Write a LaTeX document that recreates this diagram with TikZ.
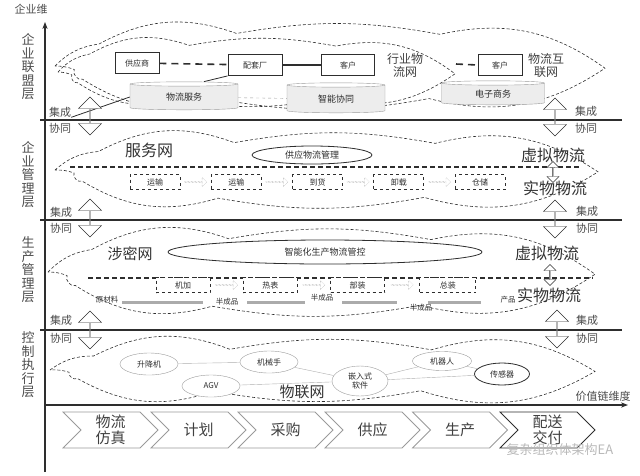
\documentclass[tikz,border=0pt]{standalone}
\usepackage{fontspec}
\setmainfont{Noto Sans CJK SC}
\usetikzlibrary{
  positioning, arrows.meta, shapes.geometric, shapes.symbols,
  shapes.arrows, calc
}
\definecolor{inkgray}{HTML}{2E2E2E}
\definecolor{softgray}{HTML}{9A9A9A}
\definecolor{bargray}{HTML}{ABABAB}

% dashed network outline: left x, right x, middle y, half height
\newcommand{\lipcloud}[4]{%
  \draw[cloudline]
    (#1,#3)
    to[bend left=18] ({#1+0.08*(#2-#1)},{#3-0.5*#4})
    to[bend left=24] ({#1+0.33*(#2-#1)},{#3-0.74*#4})
    to[bend left=10] ({#1+0.70*(#2-#1)},{#3-0.72*#4})
    to[bend left=24] (#2,{#3+0.05*#4})
    to[bend left=24] ({#1+0.68*(#2-#1)},{#3+0.74*#4})
    to[bend left=10] ({#1+0.30*(#2-#1)},{#3+0.76*#4})
    to[bend left=24] ({#1+0.05*(#2-#1)},{#3+0.3*#4})
    to[bend left=70] ({#1+0.035*(#2-#1)},{#3+0.08*#4})
    to[bend right=10] (#1,#3);}

\begin{document}
\begin{tikzpicture}[x=1pt, y=-1pt,
    every node/.style={font=\fontsize{9}{10}\selectfont, text=inkgray},
    cloudline/.style={inkgray, semithick, dash pattern=on 3pt off 2pt},
    layerlbl/.style={font=\fontsize{13}{13.5}\selectfont, align=center,
                     text=black!70, inner sep=0pt},
    axisline/.style={line width=1.3pt, inkgray},
    layerline/.style={line width=1.1pt, inkgray},
    splitline/.style={line width=1.2pt, inkgray, dash pattern=on 5pt off 3pt},
    syncarrow/.style={double arrow, shape border rotate=90, draw=inkgray,
                      fill=white, minimum height=38pt, minimum width=23pt,
                      double arrow head extend=4.5pt, inner sep=0pt},
    smallsync/.style={syncarrow, minimum height=21pt, minimum width=12pt,
                      double arrow head extend=2.5pt},
    tag/.style={font=\fontsize{11}{11}\selectfont, text=black!70, inner sep=0pt},
    bigword/.style={font=\fontsize{16}{16}\selectfont, text=black!80, inner sep=0pt},
    netword/.style={font=\fontsize{12}{13}\selectfont, align=center,
                    text=black!75, inner sep=0pt},
    partner/.style={draw=inkgray, thick, fill=white, minimum width=44pt,
                    minimum height=21pt, font=\fontsize{8}{8}\selectfont},
    platform/.style={cylinder, shape border rotate=90, aspect=0.12,
                     draw=softgray, cylinder uses custom fill,
                     cylinder body fill=gray!14, cylinder end fill=white,
                     minimum height=28pt, minimum width=104pt, inner sep=0pt,
                     font=\fontsize{9}{9}\selectfont},
    stepbox/.style={draw=inkgray, thick, dashed, fill=white, minimum width=50pt,
                    minimum height=15pt, inner sep=0pt,
                    font=\fontsize{8}{8}\selectfont},
    flowarrow/.style={single arrow, draw=softgray, densely dotted,
                      minimum height=22pt, minimum width=9pt,
                      single arrow head extend=2pt, inner sep=0pt},
    goods/.style={font=\fontsize{7.5}{8}\selectfont, inner sep=0pt},
    prodbar/.style={line width=3pt, bargray},
    device/.style={ellipse, draw=softgray, fill=white, minimum width=58pt,
                   minimum height=22pt, inner sep=0pt, align=center,
                   font=\fontsize{8}{9}\selectfont},
    devlink/.style={softgray!80},
    stage/.style={signal, signal from=west, signal to=east, draw=softgray,
                  thick, minimum width=95pt, minimum height=36pt,
                  font=\fontsize{15}{16}\selectfont, text=black!75,
                  align=center, inner sep=0pt},
  ]
  \useasboundingbox (0,0) rectangle (640,475);

  % dashed networks
  \lipcloud{55}{605}{66}{44}
  \lipcloud{58}{455}{72}{36}
  \lipcloud{55}{598}{170}{37}
  \lipcloud{48}{595}{272}{45}
  \lipcloud{50}{595}{370}{28}
  \coordinate (indend) at (456,64);

  % axes and layer borders
  \draw[axisline, -{Stealth[length=7pt]}] (45,472) -- (45,22);
  \draw[axisline, -{Stealth[length=7pt]}] (45,405) -- (628,405);
  \foreach \ly in {120,220,330}
    \draw[layerline] (40,\ly) -- (622,\ly);
  \draw[splitline] (70,167) -- (580,167);
  \draw[splitline] (88,278) -- (593,278);

  \node[font=\fontsize{11}{11}\selectfont, text=black!70] (ydim) at (31,9) {企业维};
  \node[font=\fontsize{11}{11}\selectfont, text=black!70] (xdim) at (603,396) {价值链维度};

  \node[layerlbl] (lyr1) at (28,67) {企\\业\\联\\盟\\层};
  \node[layerlbl] (lyr2) at (28,175) {企\\业\\管\\理\\层};
  \node[layerlbl] (lyr3) at (28,270) {生\\产\\管\\理\\层};
  \node[layerlbl] (lyr4) at (28,365) {控\\制\\执\\行\\层};

  % alliance layer
  \node[partner] (supp) at (137,63) {供应商};
  \node[partner, minimum width=54pt] (fact) at (255,65) {配套厂};
  \node[partner, minimum width=53pt] (cust1) at (348,65) {客户};
  \node[netword] (indnet) at (405,65) {行业物\\流网};
  \node[partner] (cust2) at (500,65) {客户};
  \node[netword] (lognet) at (546,65) {物流互\\联网};
  \node[platform, minimum width=108pt] (svc) at (184,97) {物流服务};
  \node[platform, minimum width=98pt, minimum height=30pt] (coop) at (336,99) {智能协同};
  \node[platform, minimum width=103pt, minimum height=24pt] (ecom) at (493,94) {电子商务};

  \draw[line width=1.6pt, inkgray, dash pattern=on 7pt off 5pt] (supp) -- (fact);
  \draw[line width=1.3pt, inkgray] (fact) -- (cust1);
  \draw[line width=1.6pt, inkgray, dash pattern=on 7pt off 5pt] (indend) -- (cust2.west);
  \draw[thick, inkgray] (fact.south west) -- ([xshift=20pt]svc.north);
  \draw[softgray, dashed] (svc) -- (coop);

  % management layer
  \node[bigword] (svcnet) at (149,150) {服务网};
  \node[ellipse, draw=inkgray, thick, fill=white, minimum width=120pt,
        minimum height=18pt, inner sep=0pt] (supmgt) at (312,155) {供应物流管理};
  \node[stepbox] (t1) at (155,182) {运输};
  \node[flowarrow, right=4pt of t1] (t1a) {};
  \node[stepbox, right=4pt of t1a] (t2) {运输};
  \node[flowarrow, right=4pt of t2] (t2a) {};
  \node[stepbox, right=4pt of t2a] (t3) {到货};
  \node[flowarrow, right=4pt of t3] (t3a) {};
  \node[stepbox, right=4pt of t3a] (t4) {卸载};
  \node[flowarrow, right=4pt of t4] (t4a) {};
  \node[stepbox, right=4pt of t4a] (t5) {仓储};
  \node[bigword] (virt2) at (553,155) {虚拟物流};
  \node[bigword] (phys2) at (555,188) {实物物流};

  % production layer
  \node[bigword, font=\fontsize{15}{15}\selectfont] (secnet) at (130,254) {涉密网};
  \node[ellipse, draw=inkgray, thick, fill=white, minimum width=314pt,
        minimum height=24pt, inner sep=0pt] (prodctl) at (325,252) {智能化生产物流管控};
  \node[stepbox, minimum width=54pt] (p1) at (183,285) {机加};
  \node[flowarrow, right=5pt of p1] (p1a) {};
  \node[stepbox, minimum width=54pt, right=5pt of p1a] (p2) {热表};
  \node[flowarrow, right=5pt of p2] (p2a) {};
  \node[stepbox, minimum width=54pt, right=5pt of p2a] (p3) {部装};
  \node[flowarrow, right=6pt of p3] (p3a) {};
  \node[stepbox, minimum width=56pt, right=6pt of p3a] (p4) {总装};
  \node[bigword] (virt3) at (547,253) {虚拟物流};
  \node[bigword] (phys3) at (549,295) {实物物流};

  \coordinate (barrow) at (0,302);
  \node[goods] (raw) at (107,300) {原材料};
  \node[goods] (semi1) at (227,302) {半成品};
  \node[goods] (semi2) at (322,298) {半成品};
  \node[goods] (semi3) at (421,308) {半成品};
  \node[goods] (prod) at (508,300) {产品};
  \draw[prodbar] ([xshift=4pt]raw.east |- barrow) -- ([xshift=-13pt]semi1.west |- barrow);
  \draw[prodbar] ([xshift=9pt]semi1.east |- barrow) -- ([xshift=-6pt]semi2.west |- barrow);
  \draw[prodbar] ([xshift=9pt]semi2.east |- barrow) -- ([xshift=-13pt]semi3.west |- barrow);
  \draw[prodbar] ([xshift=-4pt]semi3.east |- barrow) -- ([xshift=-19pt]prod.west |- barrow);

  % control layer
  \node[device] (lift) at (149,364) {升降机};
  \node[device] (arm) at (269,362) {机械手};
  \node[device] (agv) at (211,386) {AGV};
  \node[device, minimum width=56pt, minimum height=30pt] (embed) at (360,381) {嵌入式\\软件};
  \node[device, minimum width=59pt, minimum height=19pt] (robot) at (442,361) {机器人};
  \node[device, draw=inkgray, thick, minimum width=55pt] (sensor) at (502,374) {传感器};
  \node[bigword, font=\fontsize{15}{15}\selectfont] (iot) at (302,392) {物联网};
  \draw[devlink] (lift) -- (arm);
  \draw[devlink] (arm) -- (embed);
  \draw[devlink] (agv) -- (embed);
  \draw[devlink] (embed) -- (robot);
  \draw[devlink] (embed) -- (sensor);
  \draw[devlink] (robot) -- (sensor);

  % integration / coordination arrows
  \node[tag] (jc1) at (60,112) {集成};
  \node[tag] (xt1) at (60,128) {协同};
  \draw[thick, inkgray] (svc.west) -- (jc1.south east);
  \node[syncarrow] (sl1) at (90,116) {};
  \node[syncarrow] (sr1) at (555,117) {};
  \node[tag] (jc1r) at (586,111) {集成};
  \node[tag] (xt1r) at (586,128) {协同};

  \node[syncarrow] (sl2) at (90,218) {};
  \node[syncarrow] (sr2) at (555,219) {};
  \node[tag] (jc2) at (61,212) {集成};
  \node[tag] (xt2) at (61,228) {协同};
  \node[tag] (jc2r) at (587,211) {集成};
  \node[tag] (xt2r) at (587,228) {协同};

  \node[syncarrow] (sl3) at (90,330) {};
  \node[syncarrow] (sr3) at (557,329) {};
  \node[tag] (jc3) at (61,320) {集成};
  \node[tag] (xt3) at (61,338) {协同};
  \node[tag] (jc3r) at (587,320) {集成};
  \node[tag] (xt3r) at (587,338) {协同};

  \node[smallsync] (vp2) at (553,172) {};
  \node[smallsync] (vp3) at (550,275) {};

  % value chain
  \node[stage] (s1) at (110.5,430) {物流\\仿真};
  \node[stage] (s2) at (198.5,430) {计划};
  \node[stage] (s3) at (285.5,430) {采购};
  \node[stage] (s4) at (372.5,430) {供应};
  \node[stage] (s5) at (460,430) {生产};
  \node[stage, draw=inkgray] (s6) at (547.5,430) {配送\\交付};

  \node[font=\fontsize{13}{13}\selectfont, text=gray!55] (mark) at (560,450) {复杂组织体架构EA};
\end{tikzpicture}
\end{document}
